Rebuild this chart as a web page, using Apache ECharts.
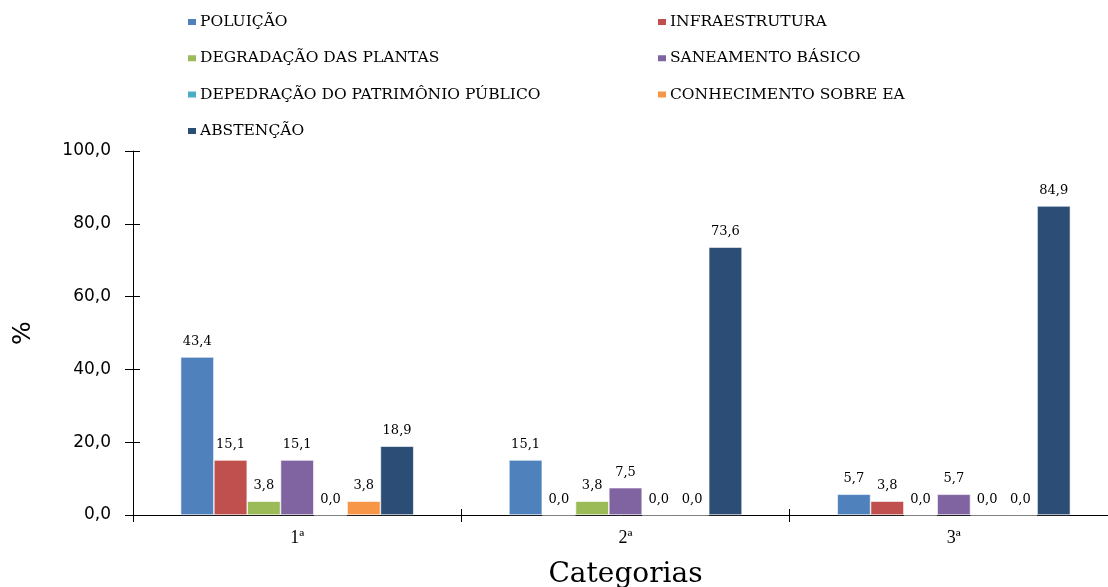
<!DOCTYPE html>
<html>
<head>
<meta charset="utf-8">
<script src="https://cdn.jsdelivr.net/npm/echarts@6/dist/echarts.min.js"></script>
<style>
  html, body { margin: 0; padding: 0; background: #fff; }
  #chart { width: 1108px; height: 587px; }
</style>
</head>
<body>
<div id="chart"></div>
<script>
// categorias e séries
const categorias = ['1ª', '2ª', '3ª'];
const nomes = [
  'POLUIÇÃO', 'INFRAESTRUTURA', 'DEGRADAÇÃO DAS PLANTAS', 'SANEAMENTO BÁSICO',
  'DEPEDRAÇÃO DO PATRIMÔNIO PÚBLICO', 'CONHECIMENTO SOBRE EA', 'ABSTENÇÃO'
];
const poluicao = [43.4, 15.1, 5.7];
const infraestrutura = [15.1, 0.0, 3.8];
const degradacao = [3.8, 3.8, 0.0];
const saneamento = [15.1, 7.5, 5.7];
const depedracao = [0.0, 0.0, 0.0];
const conhecimento = [3.8, 0.0, 0.0];
const abstencao = [18.9, 73.6, 84.9];
const yTicks = [0, 20, 40, 60, 80, 100];

const valores = [poluicao, infraestrutura, degradacao, saneamento, depedracao, conhecimento, abstencao];
const cores = ['#4F81BD', '#C0504D', '#9BBB59', '#8064A2', '#4BACC6', '#F79646', '#2C4D75'];

const fmt = v => v.toFixed(1).replace('.', ',');

const chart = echarts.init(document.getElementById('chart'));

const legendBase = {
  orient: 'vertical',
  top: 9,
  itemWidth: 10,
  itemHeight: 8,
  itemGap: 20.3,
  icon: 'rect',
  selectedMode: false,
  textStyle: { fontFamily: 'DejaVu Serif', fontSize: 15.5, color: '#000', padding: [0, 0, 0, -2] }
};

// eixo y duplicado só para os traços que cruzam o eixo
const yBase = {
  type: 'value',
  min: yTicks[0],
  max: yTicks[yTicks.length - 1],
  interval: 20,
  splitLine: { show: false }
};

const option = {
  animation: false,
  color: cores,
  legend: [
    Object.assign({}, legendBase, { left: 181, data: [nomes[0], nomes[2], nomes[4], nomes[6]] }),
    Object.assign({}, legendBase, { left: 651, data: [nomes[1], nomes[3], nomes[5]] })
  ],
  grid: { left: 133, right: -10, top: 151, bottom: 72, outerBoundsMode: 'none', containLabel: false },
  xAxis: [{
    type: 'category',
    data: categorias,
    name: 'Categorias',
    nameLocation: 'middle',
    nameGap: 46,
    nameTextStyle: { fontFamily: 'DejaVu Serif', fontSize: 28, color: '#000' },
    axisLine: { lineStyle: { color: '#000', width: 1 } },
    axisTick: { show: true, length: 7, lineStyle: { color: '#000' } },
    axisLabel: { margin: 14, fontFamily: 'Liberation Serif', fontSize: 18, color: '#000' }
  }, {
    type: 'category',
    data: categorias,
    position: 'bottom',
    axisLine: { show: false },
    axisTick: { show: true, inside: true, length: 6, lineStyle: { color: '#000' } },
    axisLabel: { show: false }
  }],
  yAxis: [Object.assign({}, yBase, {
    name: '%',
    nameLocation: 'middle',
    nameRotate: 90,
    nameGap: 97,
    nameTextStyle: { fontFamily: 'DejaVu Sans', fontSize: 25, color: '#000' },
    axisLine: { show: true, lineStyle: { color: '#000' } },
    axisTick: { show: true, length: 8, lineStyle: { color: '#000' } },
    axisLabel: { margin: 22, fontFamily: 'DejaVu Sans', fontSize: 17, color: '#000', formatter: fmt }
  }), Object.assign({}, yBase, {
    position: 'left',
    axisLine: { show: false },
    axisTick: { show: true, inside: true, length: 7, lineStyle: { color: '#000' } },
    axisLabel: { show: false }
  })],
  series: nomes.map((n, i) => ({
    name: n,
    type: 'bar',
    data: valores[i],
    barGap: '0%',
    barCategoryGap: '29%',
    itemStyle: { color: cores[i], borderColor: '#fff', borderWidth: 0.6 },
    label: {
      show: true,
      position: 'top',
      distance: 9,
      fontFamily: 'DejaVu Serif',
      fontSize: 13,
      color: '#000',
      formatter: p => fmt(p.value)
    }
  }))
};

chart.setOption(option);
</script>
</body>
</html>
